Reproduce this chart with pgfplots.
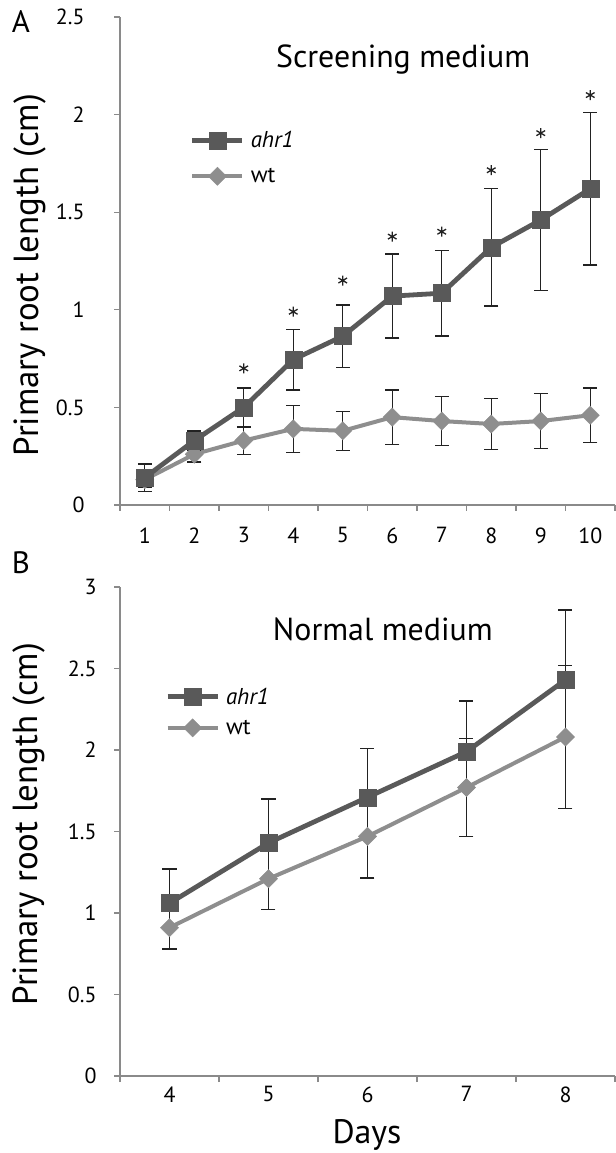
\documentclass[border=0pt]{standalone}
\usepackage{fontspec}
\setmainfont{PT Sans}
\usepackage{pgfplots}
\usepackage{pgfplotstable}
\pgfplotsset{compat=1.18}
\definecolor{ahrc}{HTML}{595959}
\definecolor{wtc}{HTML}{8E8E8E}
\definecolor{axc}{HTML}{8A8A8A}
\definecolor{errc}{HTML}{222222}

\pgfplotstableread{
x  ahr   eahr  wt    ewt
1  0.14  0.07  0.13  0.04
2  0.33  0.05  0.26  0.04
3  0.50  0.10  0.33  0.07
4  0.745 0.155 0.39  0.12
5  0.865 0.16  0.38  0.10
6  1.07  0.215 0.45  0.14
7  1.085 0.22  0.43  0.125
8  1.32  0.30  0.415 0.13
9  1.46  0.36  0.43  0.14
10 1.62  0.39  0.46  0.14
}\dataA

\pgfplotstableread{
x  star
3  0.70
4  0.99
5  1.15
6  1.375
7  1.40
8  1.715
9  1.905
10 2.10
}\starsA

\pgfplotstableread{
x  ahr   eahr  wt    ewt
4  1.06  0.21  0.91  0.13
5  1.43  0.27  1.21  0.19
6  1.71  0.30  1.47  0.255
7  1.99  0.31  1.77  0.30
8  2.43  0.43  2.08  0.44
}\dataB

\pgfplotsset{
  myaxis/.style={
    scale only axis,
    width=495bp,
    axis x line*=bottom, axis y line*=left,
    axis line style={axc, line width=1.3bp},
    tick style={axc, line width=1.3bp},
    tick align=outside,
    major tick length=6bp,
    minor tick length=6bp,
    major x tick style={draw=none},
    /pgf/number format/assume math mode=true,
    ticklabel style={font=\fontsize{22}{22}\selectfont},
    yticklabel style={/pgf/number format/fixed},
    clip=false,
    legend cell align=left,
    reverse legend,
    legend style={draw=none, fill=none, inner sep=0pt,
      font=\fontsize{23}{23}\selectfont,
      nodes={inner sep=1bp},
      /tikz/every odd column/.append style={column sep=5bp}},
    legend image code/.code={%
      \draw[mark repeat=2,mark phase=2,#1] plot coordinates {(0bp,0bp) (25bp,0bp) (50bp,0bp)};},
  },
  ahrstyle/.style={ahrc, line width=4.8bp, mark=square*, mark size=8.5bp, mark options={solid, line width=0.5bp, fill=ahrc}},
  wtstyle/.style={wtc, line width=4bp, mark=square*, mark size=6.4bp, mark options={solid, rotate=45, line width=0.5bp, fill=wtc}},
  errstyle/.style={draw=none, mark=none, forget plot,
     error bars/.cd, y dir=#1, y explicit,
     error bar style={errc, line width=1.4bp},
     error mark options={errc, line width=1.4bp, mark size=7bp, rotate=90}},
  errstyle/.default=both,
}

\begin{document}
\begin{tikzpicture}
\path[use as bounding box] (0,0) rectangle (616bp,1153bp);

% ---------- Panel A ----------
\begin{axis}[myaxis,
  at={(120bp,648bp)}, anchor=south west,
  height=488bp,
  xmin=0.5, xmax=10.5, ymin=0, ymax=2.5,
  xtick={1,...,10},
  minor xtick={0.5,1.5,...,10.5},
  ytick={0,0.5,1,1.5,2,2.5},
  yticklabels={0,0.5,1,1.5,2,2.5},
  yticklabel style={xshift=-26bp},
  xticklabel style={yshift=-13bp},
  ylabel={Primary root length (cm)},
  every axis y label/.style={at={(axis description cs:-0.182,0.471)}, rotate=90, anchor=center, font=\fontsize{35}{35}\selectfont},
  legend style={at={(axis description cs:0.141,0.768)}, anchor=north west, row sep=17bp},
]
\addplot[wtstyle] table[x=x, y=wt] {\dataA};
\addlegendentry{wt}
\addplot[ahrstyle] table[x=x, y=ahr] {\dataA};
\addlegendentry{\textit{ahr1}}
\addplot[errstyle] table[x=x, y=wt, y error=ewt] {\dataA};
\addplot[errstyle] table[x=x, y=ahr, y error=eahr] {\dataA};
\addplot[only marks, mark=asterisk, mark size=5bp, line width=1.3bp, errc, forget plot] table[x=x, y=star] {\starsA};
\node[font=\fontsize{32}{32}\selectfont, anchor=center] at (axis description cs:0.572,0.912) {Screening medium};
\node[font=\fontsize{31}{31}\selectfont, anchor=center] at (axis description cs:-0.2,0.99) {A};
\end{axis}

% ---------- Panel B ----------
\begin{axis}[myaxis,
  at={(120bp,77bp)}, anchor=south west,
  height=489bp,
  xmin=3.5, xmax=8.5, ymin=0, ymax=3,
  xtick={4,...,8},
  minor xtick={3.5,4.5,...,8.5},
  ytick={0,0.5,1,1.5,2,2.5,3},
  yticklabels={0,0.5,1,1.5,2,2.5,3},
  yticklabel style={xshift=-14bp},
  xticklabel style={yshift=-1bp},
  ylabel={Primary root length (cm)},
  every axis y label/.style={at={(axis description cs:-0.184,0.515)}, rotate=90, anchor=center, font=\fontsize{35}{35}\selectfont},
  xlabel={Days},
  every axis x label/.style={at={(axis description cs:0.499,-0.12)}, anchor=center, font=\fontsize{34}{34}\selectfont},
  legend style={at={(axis description cs:0.091,0.796)}, anchor=north west, row sep=12bp},
]
\addplot[wtstyle] table[x=x, y=wt] {\dataB};
\addlegendentry{wt}
\addplot[ahrstyle] table[x=x, y=ahr] {\dataB};
\addlegendentry{\textit{ahr1}}
\addplot[errstyle] table[x=x, y=wt, y error=ewt] {\dataB};
\addplot[errstyle=plus] table[x=x, y=ahr, y error=eahr] {\dataB};
\node[font=\fontsize{32}{32}\selectfont, anchor=center] at (axis description cs:0.531,0.914) {Normal medium};
\node[font=\fontsize{31}{31}\selectfont, anchor=center] at (axis description cs:-0.2,1.049) {B};
\end{axis}
\end{tikzpicture}
\end{document}
